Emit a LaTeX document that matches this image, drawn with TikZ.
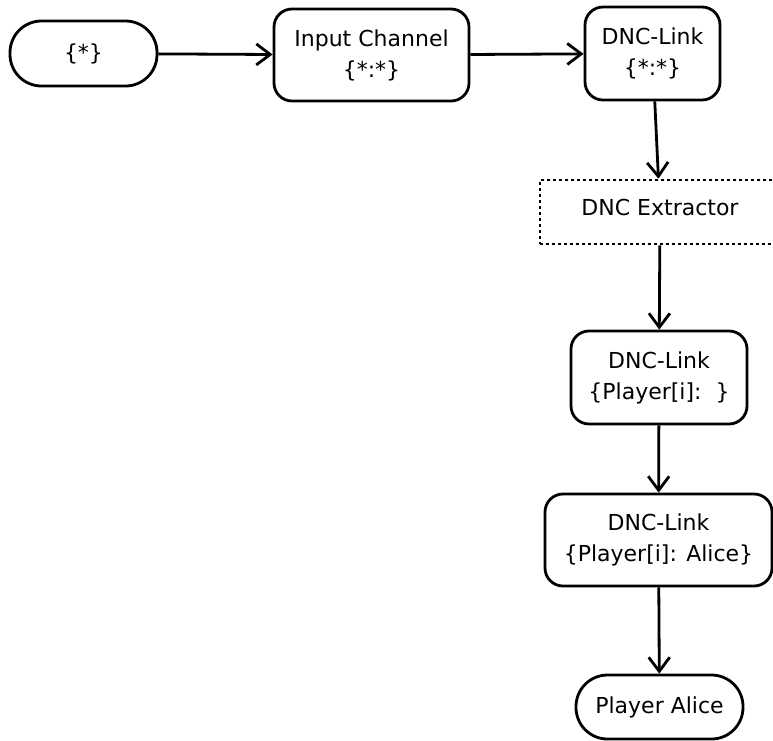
\documentclass[tikz,border=0pt]{standalone}
\usepackage{fontspec}
\setmainfont{DejaVu Sans}
\usetikzlibrary{arrows.meta}
\begin{document}
\begin{tikzpicture}[x=1pt,y=-1pt,
  label font/.style={font=\fontsize{22}{31}\selectfont},
  box/.style={draw, line width=2.8pt, rounded corners=18pt, align=center,
    inner sep=0pt, label font},
  pill/.style={box, rounded corners=31.5pt},
  dotbox/.style={draw, line width=2.6pt, dash pattern=on 3pt off 3pt,
    align=center, inner sep=0pt, label font},
  flow/.style={line width=2.8pt,
    -{Straight Barb[length=14pt,width=21pt,line width=2.8pt]}}
]
\useasboundingbox (0,0) rectangle (773,740);

% pipeline stages
\node[pill, minimum width=147pt, minimum height=65pt] (src) at (83.5,53.5) {\{*\}};
\node[box, minimum width=195pt, minimum height=92pt] (input) at (371.5,55) {Input Channel\\\{*:*\}};
\node[box, minimum width=135pt, minimum height=93pt] (link1) at (652.5,53.5) {DNC-Link\\\{*:*\}};
\node[dotbox, minimum width=240pt, minimum height=64pt] (extract) at (660,212) {};
\node[label font] (extractlabel) at (660,207) {DNC Extractor};
\node[box, minimum width=176pt, minimum height=93pt] (link2) at (659,377.5) {DNC-Link\\\{Player[i]:\ \ \}};
\node[box, minimum width=227pt, minimum height=92pt] (link3) at (658.5,540) {DNC-Link\\\{Player[i]: Alice\}};
\node[pill, minimum width=167pt, minimum height=64pt] (alice) at (659.5,707) {Player Alice};

% connectors
\draw[flow] (src) -- (input);
\draw[flow] (input) -- (link1);
\draw[flow] (link1) -- (extract);
\draw[flow] (extract) -- (link2);
\draw[flow] (link2) -- (link3);
\draw[flow] (link3) -- (alice);
\end{tikzpicture}
\end{document}
